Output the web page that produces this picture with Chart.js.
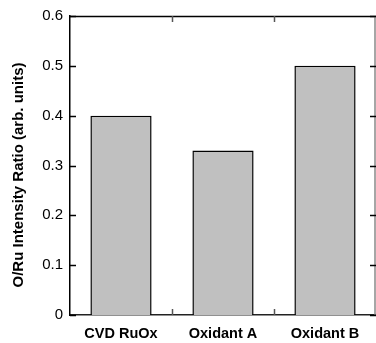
<!DOCTYPE html>
<html>
<head>
<meta charset="utf-8">
<script src="https://cdn.jsdelivr.net/npm/chart.js@4/dist/chart.umd.min.js"></script>
<style>
  html, body { margin: 0; padding: 0; background: #fff; }
</style>
</head>
<body>
<canvas id="myChart" width="376" height="343"></canvas>
<script>
// data
const categories = ['CVD RuOx', 'Oxidant A', 'Oxidant B'];
const ratios = [0.40, 0.33, 0.50];
const yTickValues = [0, 0.1, 0.2, 0.3, 0.4, 0.5, 0.6];
const yTitle = 'O/Ru Intensity Ratio (arb. units)';

const TICK = 6;

function line(c, x1, y1, x2, y2, color) {
    c.strokeStyle = color;
    c.beginPath();
    c.moveTo(x1, y1);
    c.lineTo(x2, y2);
    c.stroke();
}

// frame, inward ticks and the y title
const framePlugin = {
    id: 'frame',
    afterDraw(chart) {
        const c = chart.ctx;
        const a = chart.chartArea;
        const xs = chart.scales.x;
        const ys = chart.scales.y;
        const L = Math.round(a.left), R = Math.round(a.right);
        const T = Math.round(a.top), B = Math.round(a.bottom);
        c.save();
        c.lineWidth = 1.5;

        line(c, L, T + 0.5, R, T + 0.5, '#000');
        line(c, R - 1, T, R - 1, B, '#888');

        yTickValues.forEach(v => {
            const py = Math.round(ys.getPixelForValue(v)) + 0.5;
            line(c, L, py, L + TICK, py, '#000');
            line(c, R, py, R - TICK, py, '#000');
        });

        for (let i = 1; i < categories.length; i++) {
            const px = Math.round((xs.getPixelForValue(i - 1) + xs.getPixelForValue(i)) / 2) + 0.5;
            line(c, px, B, px, B - TICK, '#555');
            line(c, px, T, px, T + TICK, '#555');
        }

        // y axis title
        c.fillStyle = '#000';
        c.font = 'bold 15px "Liberation Sans", Arial, sans-serif';
        c.textAlign = 'center';
        c.textBaseline = 'middle';
        c.translate(19, 175);
        c.rotate(-Math.PI / 2);
        c.fillText(yTitle, 0, 0);
        c.restore();
    }
};

const myChart = new Chart(document.getElementById('myChart'), {
    type: 'bar',
    data: {
        labels: categories,
        datasets: [{
            data: ratios,
            backgroundColor: '#c0c0c0',
            borderColor: '#000',
            borderWidth: 1.5,
            barPercentage: 0.6,
            categoryPercentage: 1.0
        }]
    },
    options: {
        responsive: false,
        devicePixelRatio: 1,
        animation: false,
        layout: { padding: { top: 16, right: 0, left: 0, bottom: 0 } },
        plugins: {
            legend: { display: false },
            tooltip: { enabled: false }
        },
        scales: {
            x: {
                grid: { display: false, drawTicks: false },
                border: { display: true, color: '#222', width: 1.5 },
                ticks: {
                    color: '#000',
                    padding: 10,
                    maxRotation: 0,
                    font: { family: '"Liberation Sans", Arial, sans-serif', size: 14.5, weight: 'bold' }
                },
                afterFit: (scale) => { scale.height = 28; }
            },
            y: {
                min: 0,
                max: 0.6,
                grid: { display: false, drawTicks: false },
                border: { display: true, color: '#000', width: 1.5 },
                ticks: {
                    stepSize: 0.1,
                    color: '#000',
                    padding: 7,
                    font: { family: '"Liberation Sans", Arial, sans-serif', size: 15 },
                    callback: (value) => value === 0 ? '0' : value.toFixed(1)
                },
                afterFit: (scale) => { scale.width = 70; }
            }
        }
    },
    plugins: [framePlugin]
});
</script>
</body>
</html>
